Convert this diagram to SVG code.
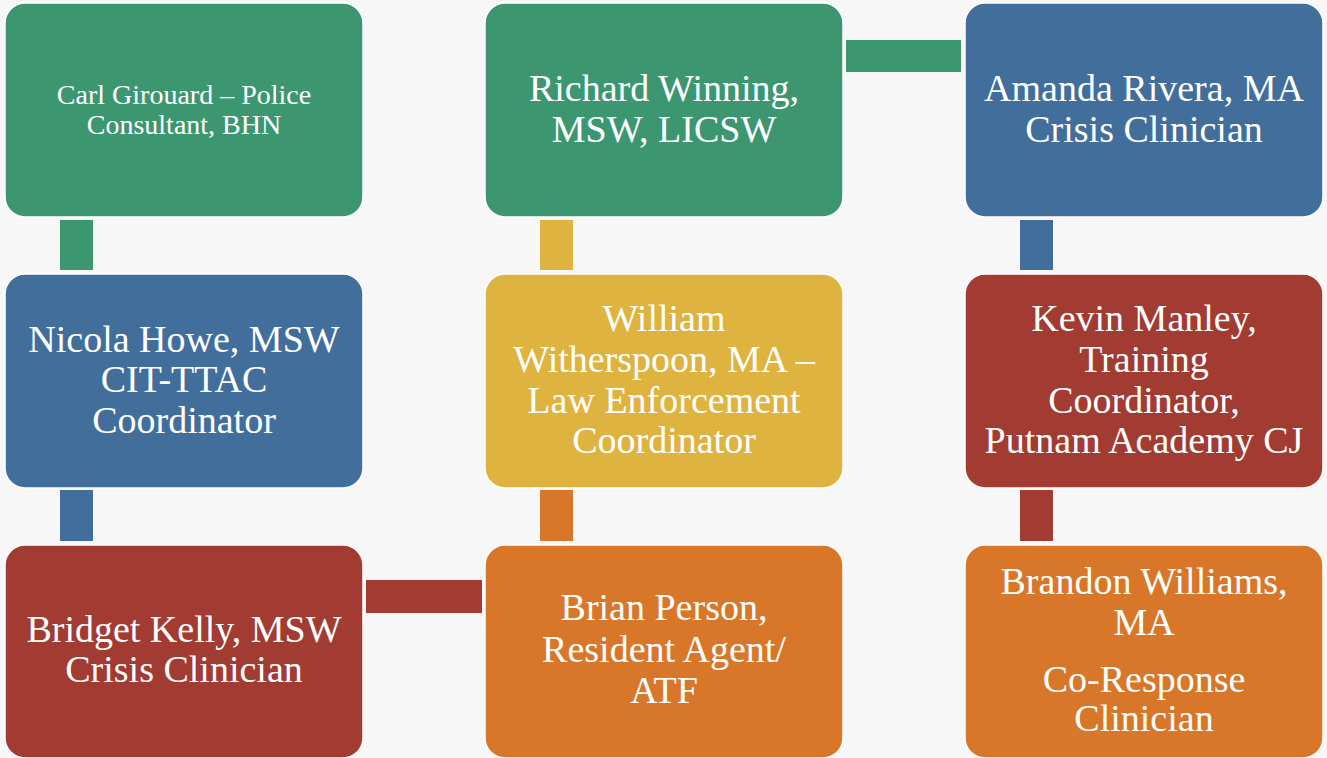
<svg xmlns="http://www.w3.org/2000/svg" width="1327" height="758" viewBox="0 0 1327 758">
<style>
.box{stroke:#ffffff;stroke-width:1.5}
.g{fill:#3C9770}.b{fill:#426E9C}.r{fill:#A23B32}.y{fill:#DFB33F}.o{fill:#D8772A}
text{font-family:"Liberation Serif","Times New Roman",serif;fill:#ffffff;text-anchor:middle}
.big{font-size:38px}
.small{font-size:28px}
</style>
<rect width="1327" height="758" fill="#F7F7F7"/>
<g id="connectors">
<rect class="g" x="60" y="220" width="33" height="50"/>
<rect class="b" x="60" y="490" width="33" height="51"/>
<rect class="r" x="366" y="580" width="116" height="33"/>
<rect class="y" x="540" y="220" width="33" height="50"/>
<rect class="o" x="540" y="490" width="33" height="51"/>
<rect class="g" x="846" y="40" width="115" height="32"/>
<rect class="b" x="1020" y="220" width="33" height="50"/>
<rect class="r" x="1020" y="490" width="33" height="51"/>
</g>
<g id="n-carl">
<rect class="box g" x="5" y="3" width="358" height="214" rx="20"/>
<text class="small" x="184" y="104">Carl Girouard – Police</text>
<text class="small" x="184" y="134">Consultant, BHN</text>
</g>
<g id="n-richard">
<rect class="box g" x="485" y="3" width="358" height="214" rx="20"/>
<text class="big" x="664" y="101">Richard Winning,</text>
<text class="big" x="664" y="142">MSW, LICSW</text>
</g>
<g id="n-amanda">
<rect class="box b" x="965" y="3" width="358" height="214" rx="20"/>
<text class="big" x="1144" y="101">Amanda Rivera, MA</text>
<text class="big" x="1144" y="142">Crisis Clinician</text>
</g>
<g id="n-nicola">
<rect class="box b" x="5" y="274" width="358" height="214" rx="20"/>
<text class="big" x="184" y="352">Nicola Howe, MSW</text>
<text class="big" x="184" y="392">CIT-TTAC</text>
<text class="big" x="184" y="433">Coordinator</text>
</g>
<g id="n-william">
<rect class="box y" x="485" y="274" width="358" height="214" rx="20"/>
<text class="big" x="664" y="331">William</text>
<text class="big" x="664" y="372">Witherspoon, MA –</text>
<text class="big" x="664" y="413">Law Enforcement</text>
<text class="big" x="664" y="453">Coordinator</text>
</g>
<g id="n-kevin">
<rect class="box r" x="965" y="274" width="358" height="214" rx="20"/>
<text class="big" x="1144" y="331">Kevin Manley,</text>
<text class="big" x="1144" y="372">Training</text>
<text class="big" x="1144" y="413">Coordinator,</text>
<text class="big" x="1144" y="453">Putnam Academy CJ</text>
</g>
<g id="n-bridget">
<rect class="box r" x="5" y="545" width="358" height="213" rx="20"/>
<text class="big" x="184" y="642">Bridget Kelly, MSW</text>
<text class="big" x="184" y="682">Crisis Clinician</text>
</g>
<g id="n-brian">
<rect class="box o" x="485" y="545" width="358" height="213" rx="20"/>
<text class="big" x="664" y="620">Brian Person,</text>
<text class="big" x="664" y="662">Resident Agent/</text>
<text class="big" x="664" y="703">ATF</text>
</g>
<g id="n-brandon">
<rect class="box o" x="965" y="545" width="358" height="213" rx="20"/>
<text class="big" x="1144" y="594">Brandon Williams,</text>
<text class="big" x="1144" y="635">MA</text>
<text class="big" x="1144" y="692">Co-Response</text>
<text class="big" x="1144" y="731">Clinician</text>
</g>
</svg>
